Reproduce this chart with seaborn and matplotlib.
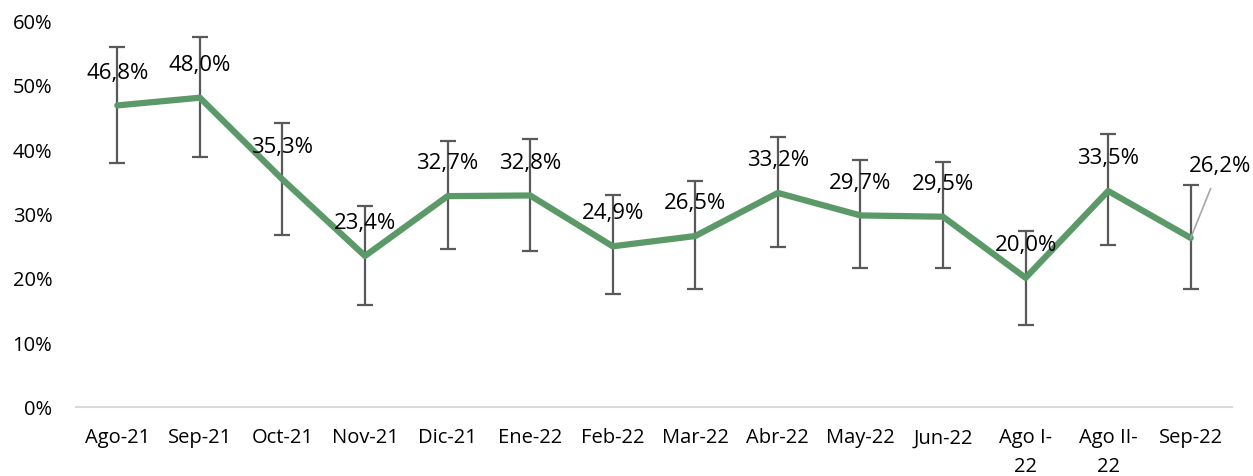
import numpy as np
import pandas as pd
import matplotlib
matplotlib.use("Agg")
import matplotlib.pyplot as plt
import seaborn as sns

# Chart data
months = ["Ago-21", "Sep-21", "Oct-21", "Nov-21", "Dic-21", "Ene-22", "Feb-22",
          "Mar-22", "Abr-22", "May-22", "Jun-22", "Ago I-\n22", "Ago II-\n22", "Sep-22"]
values = [46.8, 48.0, 35.3, 23.4, 32.7, 32.8, 24.9, 26.5, 33.2, 29.7, 29.5, 20.0, 33.5, 26.2]
upper = [55.9, 57.5, 44.1, 31.1, 41.3, 41.6, 32.9, 35.1, 41.9, 38.3, 38.0, 27.3, 42.3, 34.4]
lower = [37.9, 38.8, 26.7, 15.8, 24.5, 24.2, 17.5, 18.3, 24.8, 21.5, 21.5, 12.7, 25.1, 18.3]
y_ticks = [0, 10, 20, 30, 40, 50, 60]

green = "#5B9A68"
bar_gray = "#595959"


def build_frame():
    df = pd.DataFrame({"mes": months, "valor": values, "sup": upper, "inf": lower})
    df["pos"] = np.arange(len(df))
    return df


def draw(df):
    sns.set_theme(style="white")
    plt.rcParams["font.family"] = ["Open Sans", "DejaVu Sans"]

    fig = plt.figure(figsize=(12.53, 4.77), dpi=100)
    ax = fig.add_axes([76 / 1253, (477 - 407.5) / 477, (1232 - 76) / 1253, 386 / 477])

    # error bars first, line on top
    ax.errorbar(df["pos"], df["valor"],
                yerr=[df["valor"] - df["inf"], df["sup"] - df["valor"]],
                fmt="none", ecolor=bar_gray, elinewidth=1.6, capsize=6, capthick=1.6, zorder=2)
    sns.lineplot(data=df, x="pos", y="valor", color=green, linewidth=4.5, ax=ax,
                 zorder=3, solid_capstyle="round")

    # data labels
    for i, row in df.iterrows():
        txt = f"{row['valor']:.1f}%".replace(".", ",")
        if i == len(df) - 1:
            ax.annotate(txt, xy=(row["pos"], row["valor"]), xytext=(21, 52),
                        textcoords="offset points", ha="center", va="center",
                        fontsize=16, color="black", zorder=5,
                        arrowprops=dict(arrowstyle="-", color="#A6A6A6", lw=1.2,
                                        shrinkA=7, shrinkB=0))
        else:
            ax.annotate(txt, xy=(row["pos"], row["valor"]), xytext=(0, 24),
                        textcoords="offset points", ha="center", va="center",
                        fontsize=16, color="black", zorder=5)

    ax.set_xlim(-0.5, len(df) - 0.5)
    ax.set_ylim(0, 60)
    ax.set_xticks(df["pos"])
    ax.set_xticklabels(df["mes"], fontsize=14.5, color="black", linespacing=1.55)
    ax.set_yticks(y_ticks)
    ax.set_yticklabels([f"{t}%" for t in y_ticks], fontsize=14.5, color="black")
    ax.tick_params(axis="x", length=0, pad=15)
    ax.tick_params(axis="y", length=0, pad=17)
    ax.set_xlabel("")
    ax.set_ylabel("")

    for side in ["top", "right", "left"]:
        ax.spines[side].set_visible(False)
    ax.spines["bottom"].set_color("#D9D9D9")
    ax.spines["bottom"].set_linewidth(1.5)
    ax.grid(False)

    fig.savefig("out.png", dpi=100)


def main():
    df = build_frame()
    draw(df)


if __name__ == "__main__":
    main()
